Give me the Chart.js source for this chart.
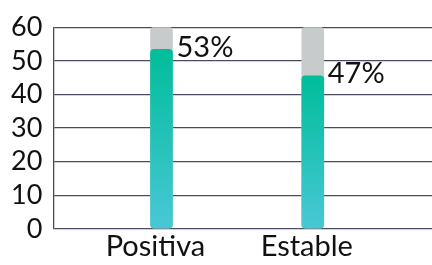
<!DOCTYPE html>
<html>
<head>
<meta charset="utf-8">
<script src="https://cdn.jsdelivr.net/npm/chart.js@4/dist/chart.umd.min.js"></script>
<style>
  html, body { margin: 0; padding: 0; background: #fff; }
  #wrap { width: 432px; height: 265px; }
</style>
</head>
<body>
<div id="wrap"><canvas id="opinionChart"></canvas></div>
<script>
var categories = ["Positiva", "Estable"];
var barValues = [53.4, 45.5];
var valueLabels = ["53%", "47%"];
var trackValues = [60, 60];
var yTicks = [0, 10, 20, 30, 40, 50, 60];

document.addEventListener("DOMContentLoaded", function () {
  var ctx = document.getElementById("opinionChart").getContext("2d");

  function greenFill(context) {
    var chart = context.chart;
    var area = chart.chartArea;
    if (!area) return "#1fc0b0";
    var y = chart.scales.y;
    var top = y.getPixelForValue(context.raw ? context.raw.y : 0);
    var g = chart.ctx.createLinearGradient(0, area.bottom, 0, top);
    g.addColorStop(0, "#48c8d6");
    g.addColorStop(1, "#00bd9a");
    return g;
  }

  var labelPlugin = {
    id: "valueLabels",
    afterDatasetsDraw: function (chart) {
      var meta = chart.getDatasetMeta(0);
      var c = chart.ctx;
      c.save();
      c.font = "29px Lato";
      c.fillStyle = "#111";
      c.textAlign = "left";
      c.textBaseline = "middle";
      meta.data.forEach(function (bar, i) {
        c.fillText(valueLabels[i], bar.x + bar.width / 2 + 4, bar.y - 2);
      });
      c.restore();
    },
  };

  var opinionChart = new Chart(ctx, {
    type: "bar",
    data: {
      datasets: [
        {
          label: "valor",
          data: categories.map(function (c, i) { return { x: i + 1, y: barValues[i] }; }),
          backgroundColor: greenFill,
          borderRadius: 4,
          borderSkipped: false,
          barThickness: 22,
          grouped: false,
          order: 1,
        },
        {
          label: "fondo",
          data: categories.map(function (c, i) { return { x: i + 1, y: trackValues[i] }; }),
          backgroundColor: "#c8cbcc",
          borderRadius: 4,
          borderSkipped: false,
          barThickness: 22,
          grouped: false,
          order: 2,
        },
      ],
    },
    options: {
      responsive: true,
      maintainAspectRatio: false,
      animation: false,
      layout: { padding: { top: 25, right: 0, left: 0, bottom: 0 } },
      plugins: {
        legend: { display: false },
        tooltip: { enabled: false },
      },
      scales: {
        x: {
          type: "linear",
          offset: false,
          min: 0.285,
          max: 2.788,
          grid: { display: false, drawTicks: false },
          border: { display: false },
          afterBuildTicks: function (scale) {
            scale.ticks = categories.map(function (c, i) { return { value: i + 1 }; });
          },
          ticks: {
            autoSkip: false,
            maxRotation: 0,
            padding: 4,
            labelOffset: -6,
            color: "#111",
            font: { family: "Lato", size: 29, lineHeight: 0.97 },
            callback: function (v) { return categories[v - 1] || ""; },
          },
        },
        y: {
          min: 0,
          max: 60,
          afterBuildTicks: function (scale) {
            scale.ticks = yTicks.map(function (v) { return { value: v }; });
          },
          grid: { color: "#4d4a63", lineWidth: 1.3, drawTicks: false },
          border: { display: true, color: "#4d4a63", width: 1.3 },
          ticks: {
            autoSkip: false,
            padding: 11,
            color: "#111",
            font: { family: "Lato", size: 27 },
          },
        },
      },
    },
    plugins: [labelPlugin],
  });
});
</script>
</body>
</html>
